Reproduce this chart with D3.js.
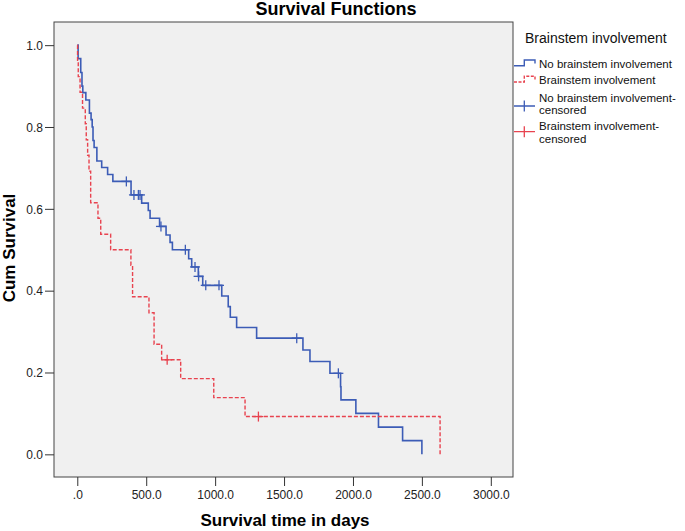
<!DOCTYPE html>
<html>
<head>
<meta charset="utf-8">
<script src="https://cdn.jsdelivr.net/npm/d3@7"></script>
<style>
  body { margin: 0; background: #fff; }
  text { font-family: "Liberation Sans", Arial, sans-serif; }
</style>
</head>
<body>
<svg width="685" height="531"></svg>
<script>
// step times (days) and survival after each step
const blueDays = [0, 6, 25, 34, 40, 62, 88, 100, 108, 114, 122, 142, 177, 220, 258, 390, 467, 515, 528, 597,
                  644, 673, 690, 808, 830, 878, 910, 1048, 1095, 1110, 1156, 1301, 1637, 1688, 1833, 1910, 1913, 2021, 2185, 2360, 2500];
const blueSurv = [1, .967, .933, .9, .884, .866, .834, .818, .8, .767, .75, .717, .701, .684, .667, .634, .614, .596, .577, .557,
                  .536, .518, .5, .478, .458, .435, .413, .387, .361, .335, .31, .284, .255, .227, .198, .165, .133, .1, .0665, .0335, 0];
const blueCensored = [356, 411, 443, 455, 607, 784, 854, 880, 932, 1028, 1592, 1894];

const redDays = [0, 2, 7, 20, 38, 58, 65, 75, 85, 97, 150, 170, 242, 389, 401, 520, 557, 612, 750, 990, 1217, 2632];
const redSurv = [1, .9615, .923, .885, .846, .808, .769, .731, .692, .615, .577, .538, .5, .462, .385, .346, .269, .231, .185, .1385, .0923, 0];
const redCensored = [652, 1314];

const xTicks = [0, 500, 1000, 1500, 2000, 2500, 3000];
const xTickLabels = [".0", "500.0", "1000.0", "1500.0", "2000.0", "2500.0", "3000.0"];
const yTicks = [0, 0.2, 0.4, 0.6, 0.8, 1.0];
const yTickLabels = ["0.0", "0.2", "0.4", "0.6", "0.8", "1.0"];

const legendLabels = [["No brainstem involvement"], ["Brainstem involvement"],
                      ["No brainstem involvement-", "censored"], ["Brainstem involvement-", "censored"]];

const blue = "#3c5cb6", red = "#e8434f";

const svg = d3.select("svg");
const frame = {left: 54, top: 22, right: 513, bottom: 477};

const x = d3.scaleLinear().domain([-169, 3161]).range([frame.left, frame.right]);
const y = d3.scaleLinear().domain([-0.0554, 1.0566]).range([frame.bottom, frame.top]);

svg.append("rect")
   .attr("x", frame.left).attr("y", frame.top)
   .attr("width", frame.right - frame.left).attr("height", frame.bottom - frame.top)
   .attr("fill", "#f0f0f0").attr("stroke", "#444").attr("stroke-width", 1);

// axes
const xAxis = svg.append("g")
   .attr("transform", "translate(0," + frame.bottom + ")")
   .call(d3.axisBottom(x).tickValues(xTicks).tickSize(9).tickPadding(4)
           .tickFormat(function(d, i) { return xTickLabels[i]; }));
const yAxis = svg.append("g")
   .attr("transform", "translate(" + frame.left + ",0)")
   .call(d3.axisLeft(y).tickValues(yTicks).tickSize(9).tickPadding(2)
           .tickFormat(function(d, i) { return yTickLabels[i]; }));
[xAxis, yAxis].forEach(function(a) {
  a.select(".domain").remove();
  a.selectAll("line").attr("stroke", "#333");
  a.selectAll("text").attr("fill", "#222").style("font-size", "12px")
   .style("font-family", "'Liberation Sans', Arial, sans-serif");
});
yAxis.selectAll("text").attr("dy", "0.36em");

// curves
function steps(days, surv) { return days.map(function(d, i) { return [d, surv[i]]; }); }
function survAt(days, surv, t) {
  let s = 1;
  days.forEach(function(d, i) { if (d <= t) s = surv[i]; });
  return s;
}
const line = d3.line().x(function(d) { return x(d[0]); }).y(function(d) { return y(d[1]); })
   .curve(d3.curveStepAfter);

svg.append("path").datum(steps(blueDays, blueSurv))
   .attr("d", line).attr("fill", "none").attr("stroke", blue).attr("stroke-width", 1.6);
svg.append("path").datum(steps(redDays, redSurv))
   .attr("d", line).attr("fill", "none").attr("stroke", red).attr("stroke-width", 1.4)
   .attr("stroke-dasharray", "4,2");

function censor(days, surv, times, color) {
  const g = svg.append("g").attr("stroke", color).attr("stroke-width", 1.3);
  times.forEach(function(t) {
    const cx = x(t), cy = y(survAt(days, surv, t));
    g.append("line").attr("x1", cx).attr("x2", cx).attr("y1", cy - 5).attr("y2", cy + 5);
    g.append("line").attr("x1", cx - 5).attr("x2", cx + 5).attr("y1", cy).attr("y2", cy);
  });
}
censor(blueDays, blueSurv, blueCensored, blue);
censor(redDays, redSurv, redCensored, red);

// titles
svg.append("text").attr("x", 336).attr("y", 15).attr("text-anchor", "middle")
   .style("font-size", "18px").style("font-weight", "bold").text("Survival Functions");
svg.append("text").attr("x", 285).attr("y", 526).attr("text-anchor", "middle")
   .style("font-size", "17px").style("font-weight", "bold").text("Survival time in days");
svg.append("text").attr("transform", "translate(15,248) rotate(-90)").attr("text-anchor", "middle")
   .style("font-size", "17px").style("font-weight", "bold").text("Cum Survival");

// legend
const lg = svg.append("g");
lg.append("text").attr("x", 525).attr("y", 43).style("font-size", "14px").attr("fill", "#111")
  .text("Brainstem involvement");
lg.append("path").attr("d", "M514,65.7H524.3V60H535V63.5")
  .attr("fill", "none").attr("stroke", blue).attr("stroke-width", 1.4);
lg.append("path").attr("d", "M514,82H524.3V76.3H535V79.8")
  .attr("fill", "none").attr("stroke", red).attr("stroke-width", 1.4).attr("stroke-dasharray", "3,1.5");
lg.append("path").attr("d", "M514,106H535M524.3,100.5V111.5")
  .attr("fill", "none").attr("stroke", blue).attr("stroke-width", 1.3);
lg.append("path").attr("d", "M514,131.7H535M524.3,126.2V137.2")
  .attr("fill", "none").attr("stroke", red).attr("stroke-width", 1.3);
const baselines = [[67.5], [84], [101.5, 114], [130, 142.5]];
legendLabels.forEach(function(lines, i) {
  lines.forEach(function(s, j) {
    lg.append("text").attr("x", 539).attr("y", baselines[i][j])
      .style("font-size", "11.5px").attr("fill", "#111").text(s);
  });
});
</script>
</body>
</html>
